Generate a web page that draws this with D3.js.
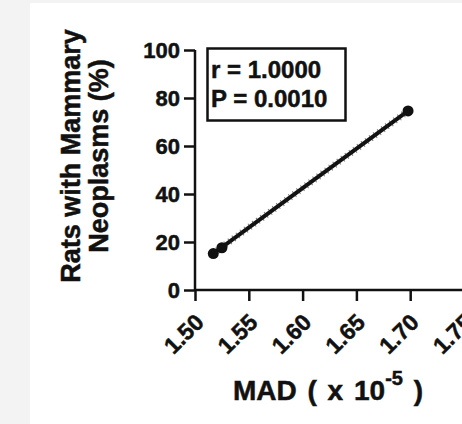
<!DOCTYPE html>
<html>
<head>
<meta charset="utf-8">
<script src="https://cdn.jsdelivr.net/npm/d3@7"></script>
<style>
  body { margin: 0; background: #f3f3f3; }
  svg { display: block; }
  text { font-family: "Liberation Sans", Arial, sans-serif; font-weight: bold; fill: #111; stroke: #111; stroke-width: 0.5; }
</style>
</head>
<body>
<div class="canvas"></div>
<script>
// data
const madValues = [1.517, 1.525, 1.698];
const neoplasmPct = [15.2, 17.6, 74.6];
const xTicks = [1.50, 1.55, 1.60, 1.65, 1.70, 1.75];
const yTicks = [0, 20, 40, 60, 80, 100];
const statLines = ["r = 1.0000", "P = 0.0010"];

const landScape = { width: 462, height: 424 };
const plot = { left: 195, top: 50, bottom: 290, right: 464 };

const svg = d3
  .select(".canvas")
  .append("svg")
  .attr("width", landScape.width)
  .attr("height", landScape.height);

// white panel, grey strip to the left and top
svg.append("rect")
  .attr("x", 30).attr("y", 3)
  .attr("width", landScape.width - 30)
  .attr("height", landScape.height - 3)
  .attr("fill", "#fff");

//scales
const xScale = d3.scaleLinear().domain([1.5, 1.75]).range([plot.left, plot.right]);
const yScale = d3.scaleLinear().domain([0, 100]).range([plot.bottom, plot.top]);

//axes
const xAxis = d3.axisBottom(xScale).tickValues(xTicks).tickSize(11).tickFormat(d3.format(".2f"));
const yAxis = d3.axisLeft(yScale).tickValues(yTicks).tickSize(11).tickPadding(4);

const xAxisGroup = svg.append("g")
  .attr("transform", `translate(0, ${plot.bottom})`)
  .call(xAxis);
const yAxisGroup = svg.append("g")
  .attr("transform", `translate(${plot.left}, 0)`)
  .call(yAxis);

[xAxisGroup, yAxisGroup].forEach(g => {
  g.select(".domain").attr("stroke", "#111").attr("stroke-width", 2.5);
  g.selectAll(".tick line").attr("stroke", "#111").attr("stroke-width", 2.5);
  g.selectAll("text").attr("font-size", 22).attr("fill", "#111");
});
// no outer tick cap
xAxisGroup.select(".domain").attr("d", `M${plot.left},0H${plot.right + 10}`);
yAxisGroup.select(".domain").attr("d", `M0,${plot.bottom}V${plot.top}`);

xAxisGroup.selectAll("text")
  .attr("font-size", 23)
  .attr("text-anchor", "end")
  .attr("y", 0)
  .attr("dy", "0.35em")
  .attr("transform", "translate(4, 28) rotate(-45)");

// regression line through the range of the data
const fit = d3.range(madValues.length).map(i => [madValues[i], neoplasmPct[i]]);
const ends = [fit[0], fit[fit.length - 1]];
const line = d3.line().x(d => xScale(d[0])).y(d => yScale(d[1]));

svg.append("path")
  .datum(ends)
  .attr("d", line)
  .attr("stroke", "#111")
  .attr("stroke-width", 4)
  .attr("fill", "none");
svg.append("path")
  .datum(ends)
  .attr("d", line)
  .attr("stroke", "#222")
  .attr("stroke-width", 7)
  .attr("stroke-dasharray", "1,4")
  .attr("opacity", 0.6)
  .attr("fill", "none");

svg.selectAll("circle")
  .data(fit)
  .enter()
  .append("circle")
  .attr("cx", d => xScale(d[0]))
  .attr("cy", d => yScale(d[1]))
  .attr("r", 5.5)
  .attr("fill", "#111");

// stats box
svg.append("rect")
  .attr("x", 207.5).attr("y", 48.5)
  .attr("width", 138).attr("height", 72)
  .attr("fill", "#fff")
  .attr("stroke", "#111")
  .attr("stroke-width", 2.5);
svg.selectAll(".stat")
  .data(statLines)
  .enter()
  .append("text")
  .attr("class", "stat")
  .attr("x", 211)
  .attr("y", (d, i) => 77.5 + i * 29.5)
  .attr("font-size", 24)
  .text(d => d);

// axis titles
const yTitle = svg.append("text")
  .attr("transform", "translate(0, 156) rotate(-90)")
  .attr("text-anchor", "middle")
  .attr("font-size", 27);
yTitle.append("tspan").attr("x", 0).attr("y", 80).text("Rats with Mammary");
yTitle.append("tspan").attr("x", 0).attr("y", 108).text("Neoplasms (%)");

const xTitle = svg.append("text")
  .attr("x", 328)
  .attr("y", 400)
  .attr("text-anchor", "middle")
  .attr("font-size", 28)
  .attr("word-spacing", 3);
xTitle.append("tspan").text("MAD ( x 10");
xTitle.append("tspan").attr("font-size", 20).attr("dy", -15).text("-5");
xTitle.append("tspan").attr("dy", 15).text(" )");
</script>
</body>
</html>
